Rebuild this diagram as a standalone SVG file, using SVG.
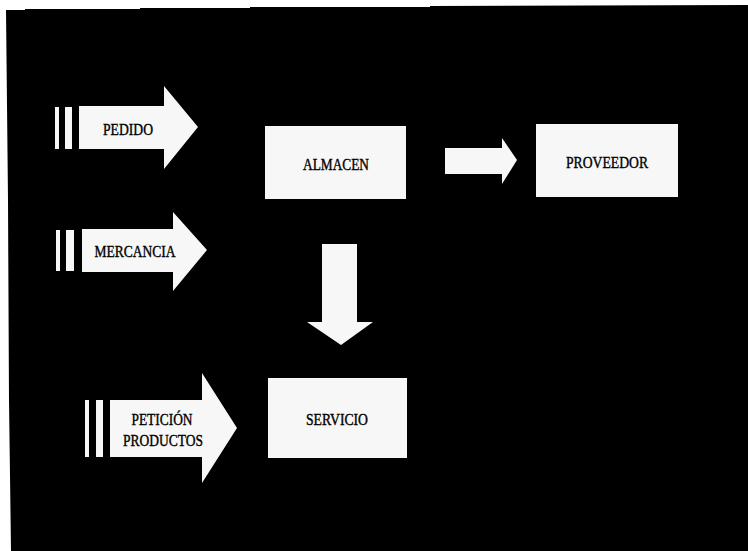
<svg xmlns="http://www.w3.org/2000/svg" width="748" height="551" viewBox="0 0 748 551">
<style>
.w{fill:#f7f7f7;stroke:none}
.t{font-family:"Liberation Serif","Times New Roman",serif;font-size:17px;fill:#000;stroke:#000;stroke-width:0.4}
</style>
<rect x="0" y="0" width="748" height="551" fill="#ffffff"/>
<polygon points="6,10 25,10 25,9 140,9 140,8 250,8 250,7 430,7 430,6 748,5 748,551 11,551 9,400 8,200" fill="#000"/>
<g id="connectors">
<g id="arrow-pedido">
<rect class="w" x="55" y="107" width="4" height="42"/>
<rect class="w" x="65" y="107" width="7" height="42"/>
<polygon class="w" points="79,106 164,106 164,86 198,127 164,169 164,149 79,149"/>
</g>
<g id="arrow-mercancia">
<rect class="w" x="56" y="230" width="4" height="41"/>
<rect class="w" x="66" y="230" width="8" height="41"/>
<polygon class="w" points="82,229 173,229 173,212 207,250 173,291 173,272 82,272"/>
</g>
<g id="arrow-peticion">
<rect class="w" x="85" y="400" width="4" height="57"/>
<rect class="w" x="96" y="400" width="7" height="57"/>
<polygon class="w" points="110,400 202,400 202,373 237,428 202,483 202,457 110,457"/>
</g>
<polygon id="arrow-almacen-proveedor" class="w" points="445,148 502,148 502,138 517,160 502,184 502,174 445,174"/>
<polygon id="arrow-almacen-servicio" class="w" points="322,244 357,244 357,322 373,322 341,345 307,322 322,322"/>
</g>
<g id="pedido"><text class="t" x="128" y="135" text-anchor="middle" textLength="50" lengthAdjust="spacingAndGlyphs">PEDIDO</text></g>
<g id="mercancia"><text class="t" x="135" y="257" text-anchor="middle" textLength="81" lengthAdjust="spacingAndGlyphs">MERCANCIA</text></g>
<g id="peticion">
<text class="t" x="162" y="425" text-anchor="middle" textLength="61" lengthAdjust="spacingAndGlyphs">PETICIÓN</text>
<text class="t" x="163" y="446" text-anchor="middle" textLength="80" lengthAdjust="spacingAndGlyphs">PRODUCTOS</text>
</g>
<g id="almacen">
<rect class="w" x="265" y="126" width="141" height="73"/>
<text class="t" x="336" y="170" text-anchor="middle" textLength="66" lengthAdjust="spacingAndGlyphs">ALMACEN</text>
</g>
<g id="proveedor">
<rect class="w" x="536" y="124" width="142" height="73"/>
<text class="t" x="607" y="168" text-anchor="middle" textLength="82" lengthAdjust="spacingAndGlyphs">PROVEEDOR</text>
</g>
<g id="servicio">
<rect class="w" x="268" y="378" width="139" height="80"/>
<text class="t" x="337" y="425" text-anchor="middle" textLength="62" lengthAdjust="spacingAndGlyphs">SERVICIO</text>
</g>
</svg>
